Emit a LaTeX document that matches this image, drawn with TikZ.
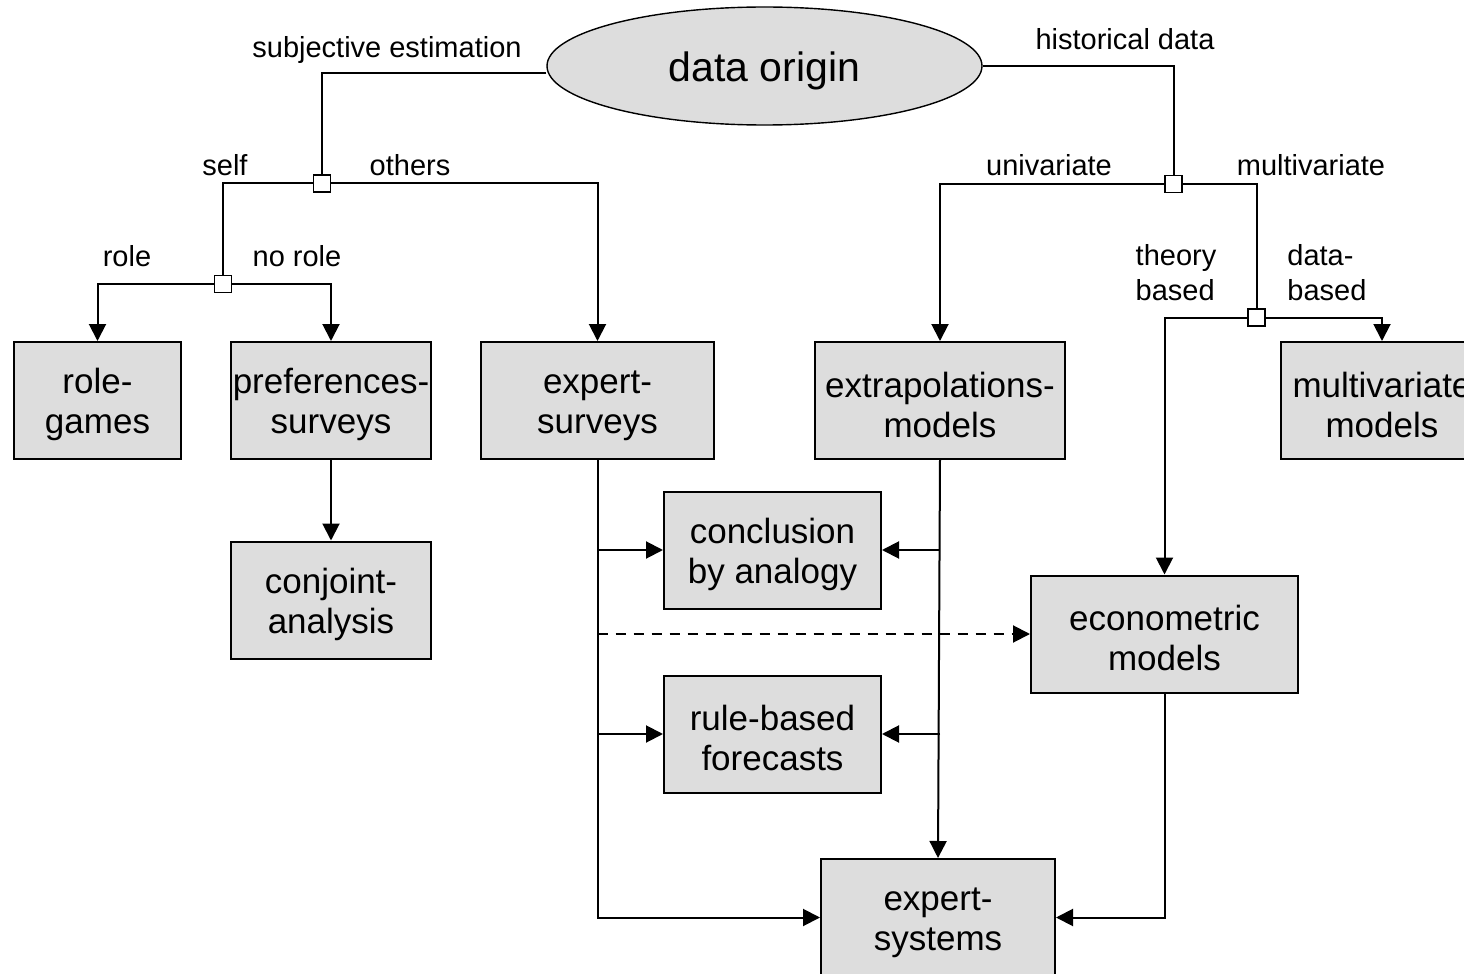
\documentclass[tikz,border=0pt]{standalone}
\usepackage{fontspec}
\setmainfont{Liberation Sans}
\usetikzlibrary{arrows.meta,shapes.geometric}
\definecolor{boxgray}{HTML}{DDDDDD}
\newcommand\tup{\rule{0pt}{17pt}}
\begin{document}
\begin{tikzpicture}[x=0.5pt,y=-0.5pt,
  box/.style={draw,line width=1pt,fill=boxgray,inner sep=0pt,align=center,
    minimum height=58.5pt,font=\fontsize{17.5}{20}\selectfont},
  junc/.style={draw,line width=0.9pt,fill=white,inner sep=0pt,minimum size=8.5pt},
  lbl/.style={font=\fontsize{14.5}{17.5}\selectfont,inner sep=0pt},
  conn/.style={line width=1pt},
  arr/.style={line width=1pt,-{Triangle[length=8.5pt,width=8.5pt]}}]
\useasboundingbox (0,0) rectangle (1464,974);
% ellipse
\node[ellipse,draw,line width=0.7pt,fill=boxgray,minimum width=217.5pt,minimum height=59pt,inner sep=0pt,
  font=\fontsize{20.5}{24}\selectfont] (do) at (764.5,66) {\rule{0pt}{20pt}data origin};
% boxes
\node[box,minimum width=83.5pt] (rg) at (97.5,400.5) {\tup role-\\games};
\node[box,minimum width=100pt] (ps) at (331,400.5) {\tup preferences-\\surveys};
\node[box,minimum width=116.5pt] (es) at (597.5,400.5) {\tup expert-\\surveys};
\node[box,minimum width=125pt] (em) at (940,400.5) {\tup extrapolations-\\models};
\node[box,minimum width=101pt] (mm) at (1382,400.5) {\tup multivariate\\models};
\node[box,minimum width=100pt] (ca) at (331,600) {\tup conjoint-\\analysis};
\node[box,minimum width=108.5pt] (cba) at (772.5,550) {\tup conclusion\\by analogy};
\node[box,minimum width=108.5pt] (rbf) at (772.5,734) {\tup rule-based\\forecasts};
\node[box,minimum width=133.5pt] (ecm) at (1164.5,634) {\tup econometric\\models};
\node[box,minimum width=117pt] (exs) at (938,917.5) {\tup expert-\\systems};
% junctions
\node[junc] (j1) at (322,183.5) {};
\node[junc] (j2) at (223,284) {};
\node[junc] (j3) at (1173.5,184) {};
\node[junc] (j4) at (1256.5,317.5) {};
% labels
\node[lbl] (l1) at (387,50) {subjective estimation};
\node[lbl] (l2) at (1125,39) {historical data};
\node[lbl] (l3) at (225,165) {self};
\node[lbl] (l4) at (410,165) {others};
\node[lbl] (l5) at (127,256) {role};
\node[lbl] (l6) at (297,256) {no role};
\node[lbl] (l7) at (1049,165) {univariate};
\node[lbl] (l8) at (1311,165) {multivariate};
\node[lbl,align=left] (l9) at (1176,273) {theory\\based};
\node[lbl,align=left,anchor=west] (l10) at (1287,273) {data-\\based};
% connectors
\draw[conn] ([yshift=-3.5pt]do.west) -| (j1.north);
\draw[conn] (do.east) -| (j3.north);
\draw[conn] (j1.west) -| (j2.north);
\draw[arr] (j1.east) -| (es.north);
\draw[arr] (j2.west) -| (rg.north);
\draw[arr] (j2.east) -| (ps.north);
\draw[arr] (ps.south) -- (ca.north);
\draw[arr] (j3.west) -| (em.north);
\draw[conn] (j3.east) -| (j4.north);
\draw[arr] (j4.east) -| (mm.north);
\draw[arr] (j4.west) -| (ecm.north);
\draw[arr] (es.south) |- (exs.west);
\draw[arr] (es.south |- cba.west) -- (cba.west);
\draw[arr] (es.south |- rbf.west) -- (rbf.west);
\draw[arr,dashed,dash pattern=on 5pt off 4pt] (es.south |- ecm.west) -- (ecm.west);
\draw[arr] (em.south) -- (exs.north);
\draw[arr] (em.south |- cba.east) -- (cba.east);
\draw[arr] (em.south |- rbf.east) -- (rbf.east);
\draw[arr] (ecm.south) |- (exs.east);
\end{tikzpicture}
\end{document}
